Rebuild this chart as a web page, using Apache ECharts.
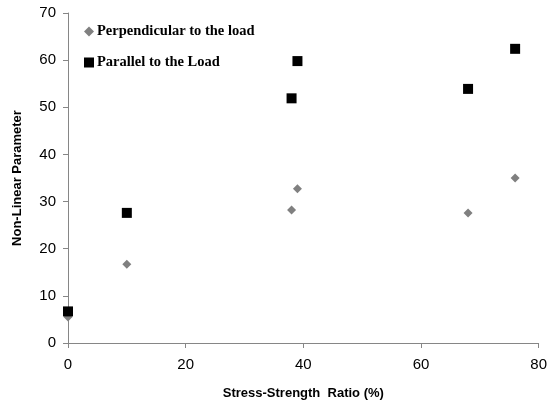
<!DOCTYPE html>
<html>
<head>
<meta charset="utf-8">
<script src="https://cdn.jsdelivr.net/npm/echarts@6/dist/echarts.min.js"></script>
<style>
  html, body { margin: 0; padding: 0; background: #fff; }
  #chart { width: 550px; height: 406px; }
</style>
</head>
<body>
<div id="chart"></div>
<script>
// stress-strength ratio (%) and non-linear parameter values
const perpX = [0, 10, 38, 39, 68, 76];
const perpY = [5.5, 16.7, 28.2, 32.7, 27.6, 35.0];
const paraX = [0, 10, 38, 39, 68, 76];
const paraY = [6.7, 27.6, 51.9, 59.8, 53.9, 62.4];
const seriesNames = ['Perpendicular to the load', 'Parallel to the Load'];

const toPoints = (xs, ys) => xs.map((x, i) => [x, ys[i]]);

const chart = echarts.init(document.getElementById('chart'));
const axisColor = '#868686';
const option = {
  animation: false,
  grid: { left: 68, right: 10, top: 13, bottom: 63 },
  legend: {
    orient: 'vertical',
    left: 79,
    top: 19,
    itemGap: 16,
    itemWidth: 10,
    itemHeight: 10,
    textStyle: {
      fontFamily: 'Liberation Serif',
      fontWeight: 'bold',
      fontSize: 14.5,
      color: '#000',
      padding: [0, 0, 0, -2]
    },
    data: [
      { name: seriesNames[0], icon: 'diamond', itemStyle: { color: '#808080' } },
      { name: seriesNames[1], icon: 'rect', itemStyle: { color: '#000' } }
    ]
  },
  xAxis: {
    type: 'value',
    min: 0,
    max: 80,
    interval: 20,
    name: 'Stress-Strength  Ratio (%)',
    nameLocation: 'middle',
    nameGap: 44,
    nameTextStyle: { fontFamily: 'Liberation Sans', fontWeight: 'bold', fontSize: 13, color: '#000' },
    axisLine: { lineStyle: { color: axisColor } },
    axisTick: { show: true, length: 5, lineStyle: { color: axisColor } },
    axisLabel: { fontFamily: 'Liberation Sans', fontSize: 15, color: '#000', margin: 14 },
    splitLine: { show: false }
  },
  yAxis: {
    type: 'value',
    min: 0,
    max: 70,
    interval: 10,
    name: 'Non-Linear Parameter',
    nameLocation: 'middle',
    nameGap: 44,
    nameTextStyle: { fontFamily: 'Liberation Sans', fontWeight: 'bold', fontSize: 13, color: '#000' },
    axisLine: { show: true, lineStyle: { color: axisColor } },
    axisTick: { show: true, length: 5, lineStyle: { color: axisColor } },
    axisLabel: { fontFamily: 'Liberation Sans', fontSize: 15, color: '#000', margin: 12 },
    splitLine: { show: false }
  },
  series: [
    {
      name: seriesNames[0],
      type: 'scatter',
      symbol: 'diamond',
      symbolSize: 9,
      itemStyle: { color: '#808080', opacity: 1 },
      data: toPoints(perpX, perpY)
    },
    {
      name: seriesNames[1],
      type: 'scatter',
      symbol: 'rect',
      symbolSize: 10,
      itemStyle: { color: '#000', opacity: 1 },
      data: toPoints(paraX, paraY)
    }
  ]
};
chart.setOption(option);
</script>
</body>
</html>
